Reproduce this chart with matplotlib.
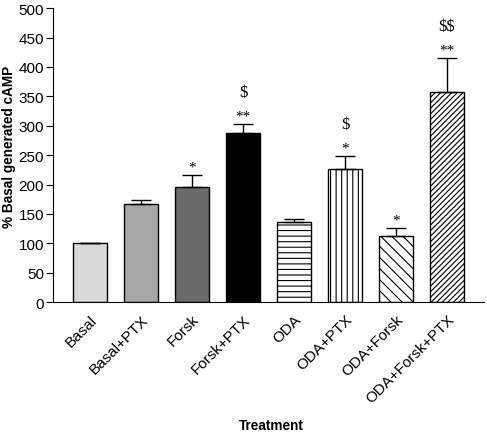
import matplotlib
matplotlib.use('Agg')
import matplotlib.pyplot as plt
import numpy as np

plt.rcParams['font.family'] = 'Liberation Sans'
plt.rcParams['hatch.linewidth'] = 0.8

treatments = ['Basal', 'Basal+PTX', 'Forsk', 'Forsk+PTX', 'ODA', 'ODA+PTX',
              'ODA+Forsk', 'ODA+Forsk+PTX']
means = [100, 167, 196, 288, 137, 226, 113, 357]
sem = [0, 7, 21, 15, 4, 23, 13, 58]
signif = ['', '', '*', '**', '', '*', '*', '**']
dollars = ['', '', '', '$', '', '$', '', '$$']

colors = ['#d9d9d9', '#a6a6a6', '#6b6b6b', 'black', 'white', 'white', 'white', 'white']
hatches = ['', '', '', '', '---', '|||', '\\\\\\', '//////']

fig = plt.figure(figsize=(4.87, 4.35), dpi=100)
ax = fig.add_axes([0.109, 0.303, 0.885, 0.676])

x = np.arange(len(treatments))
bars = ax.bar(x, means, 0.67, color=colors, edgecolor='black', linewidth=1.0)
for b, h in zip(bars, hatches):
    b.set_hatch(h)

ax.errorbar(x, means, yerr=[np.zeros(len(sem)), sem], fmt='none', ecolor='black',
            elinewidth=1.0, capsize=7, capthick=1.0)

# significance marks above error bars
for i in range(len(x)):
    top = means[i] + sem[i]
    if signif[i]:
        ax.text(x[i], top + 7, signif[i], ha='center', va='baseline',
                fontsize=11, family='Liberation Serif')
    if dollars[i]:
        ax.text(x[i], top + 47, dollars[i], ha='center', va='baseline',
                fontsize=12, family='Liberation Serif', parse_math=False)

ax.set_xlim(-0.73, 7.73)
ax.set_ylim(0, 500)
ax.set_yticks(np.arange(0, 501, 50))
ax.tick_params(axis='y', labelsize=11, length=5, pad=1.5)
ax.tick_params(axis='x', length=0, labelsize=11, pad=7)
ax.set_xticks(x)
ax.set_xticklabels(treatments, rotation=45, ha='right', rotation_mode='anchor')
ax.spines['top'].set_visible(False)
ax.spines['right'].set_visible(False)

fig.text(0.018, 0.662, '% Basal generated cAMP', rotation=90, ha='center',
         va='center', fontsize=9.8, fontweight='bold')
fig.text(0.557, 0.021, 'Treatment', ha='center', va='center',
         fontsize=9.8, fontweight='bold')

plt.savefig('out.png', dpi=100)
